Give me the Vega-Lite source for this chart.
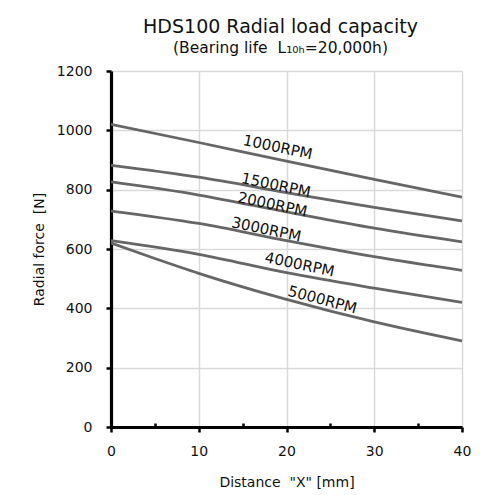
{
  "$schema": "https://vega.github.io/schema/vega-lite/v6.json",
  "width": 351,
  "height": 356,
  "autosize": "none",
  "padding": {"left": 111, "top": 71, "right": 35, "bottom": 68},
  "background": "white",
  "title": {
    "text": "HDS100 Radial load capacity",
    "subtitle": "(Bearing life\u00a0 L₁₀ₕ=20,000h)",
    "font": "DejaVu Sans",
    "subtitleFont": "DejaVu Sans",
    "fontSize": 19,
    "fontWeight": "normal",
    "subtitleFontSize": 15.5,
    "color": "#111111",
    "subtitleColor": "#111111",
    "anchor": "middle",
    "dx": -6,
    "offset": 8,
    "subtitlePadding": 4
  },
  "datasets": {
    "curves": [
      {"x": 0, "force": 1020, "rpm": "1000RPM"},
      {"x": 10, "force": 959, "rpm": "1000RPM"},
      {"x": 20, "force": 896, "rpm": "1000RPM"},
      {"x": 30, "force": 835, "rpm": "1000RPM"},
      {"x": 40, "force": 775, "rpm": "1000RPM"},
      {"x": 0, "force": 882, "rpm": "1500RPM"},
      {"x": 10, "force": 842, "rpm": "1500RPM"},
      {"x": 20, "force": 790, "rpm": "1500RPM"},
      {"x": 30, "force": 740, "rpm": "1500RPM"},
      {"x": 40, "force": 695, "rpm": "1500RPM"},
      {"x": 0, "force": 826, "rpm": "2000RPM"},
      {"x": 10, "force": 782, "rpm": "2000RPM"},
      {"x": 20, "force": 725, "rpm": "2000RPM"},
      {"x": 30, "force": 670, "rpm": "2000RPM"},
      {"x": 40, "force": 624, "rpm": "2000RPM"},
      {"x": 0, "force": 728, "rpm": "3000RPM"},
      {"x": 10, "force": 686, "rpm": "3000RPM"},
      {"x": 20, "force": 628, "rpm": "3000RPM"},
      {"x": 30, "force": 574, "rpm": "3000RPM"},
      {"x": 40, "force": 528, "rpm": "3000RPM"},
      {"x": 0, "force": 628, "rpm": "4000RPM"},
      {"x": 10, "force": 582, "rpm": "4000RPM"},
      {"x": 20, "force": 520, "rpm": "4000RPM"},
      {"x": 30, "force": 468, "rpm": "4000RPM"},
      {"x": 40, "force": 420, "rpm": "4000RPM"},
      {"x": 0, "force": 620, "rpm": "5000RPM"},
      {"x": 5, "force": 568, "rpm": "5000RPM"},
      {"x": 10, "force": 518, "rpm": "5000RPM"},
      {"x": 20, "force": 430, "rpm": "5000RPM"},
      {"x": 30, "force": 354, "rpm": "5000RPM"},
      {"x": 40, "force": 290, "rpm": "5000RPM"}
    ],
    "labels": [
      {"x": 19.0, "force": 943, "label": "1000RPM"},
      {"x": 18.8, "force": 815, "label": "1500RPM"},
      {"x": 18.4, "force": 750, "label": "2000RPM"},
      {"x": 17.7, "force": 666, "label": "3000RPM"},
      {"x": 21.5, "force": 548, "label": "4000RPM"},
      {"x": 24.1, "force": 429, "label": "5000RPM"}
    ]
  },
  "layer": [
    {
      "data": {"name": "curves"},
      "mark": {"type": "line", "interpolate": "monotone", "color": "#666666", "strokeWidth": 2.8, "clip": true},
      "encoding": {
        "x": {
          "field": "x",
          "type": "quantitative",
          "scale": {"domain": [0, 40], "nice": false},
          "axis": {
            "title": "Distance\u00a0 \"X\" [mm]",
            "values": [0, 5, 10, 15, 20, 25, 30, 35, 40],
            "labelExpr": "datum.value % 10 === 0 ? datum.label : ''",
            "gridOpacity": {"condition": {"test": "datum.value % 10 === 0", "value": 1}, "value": 0},
            "tickSize": {"condition": {"test": "datum.value % 10 === 0", "value": 5}, "value": -4},
            "labelFlush": false,
            "labelPadding": 12,
            "titlePadding": 17
          }
        },
        "y": {
          "field": "force",
          "type": "quantitative",
          "scale": {"domain": [0, 1200], "nice": false},
          "axis": {
            "title": "Radial force\u00a0 [N]",
            "values": [0, 100, 200, 300, 400, 500, 600, 700, 800, 900, 1000, 1100, 1200],
            "labelExpr": "datum.value % 200 === 0 ? datum.label : ''",
            "gridOpacity": {"condition": {"test": "datum.value % 200 === 0", "value": 1}, "value": 0},
            "tickSize": {"condition": {"test": "datum.value % 200 === 0", "value": 5}, "value": -4},
            "labelFlush": false,
            "labelPadding": 14,
            "titlePadding": 10,
            "format": "d"
          }
        },
        "detail": {"field": "rpm"}
      }
    },
    {
      "data": {"name": "labels"},
      "mark": {"type": "text", "font": "DejaVu Sans", "fontSize": 15, "color": "#111111", "align": "center", "baseline": "middle"},
      "encoding": {
        "x": {"field": "x", "type": "quantitative"},
        "y": {"field": "force", "type": "quantitative"},
        "text": {"field": "label"},
        "angle": {"condition": {"test": "datum.label === '5000RPM'", "value": 15}, "value": 12}
      }
    }
  ],
  "config": {
    "view": {"stroke": null},
    "axis": {
      "domainColor": "#000000",
      "domainWidth": 3.2,
      "tickColor": "#000000",
      "tickWidth": 2.5,
      "gridColor": "#d9d9d9",
      "gridWidth": 1.5,
      "labelFont": "DejaVu Sans",
      "labelFontSize": 14,
      "labelColor": "#111111",
      "titleFont": "DejaVu Sans",
      "titleFontSize": 14,
      "titleFontWeight": "normal",
      "titleColor": "#111111"
    }
  }
}
